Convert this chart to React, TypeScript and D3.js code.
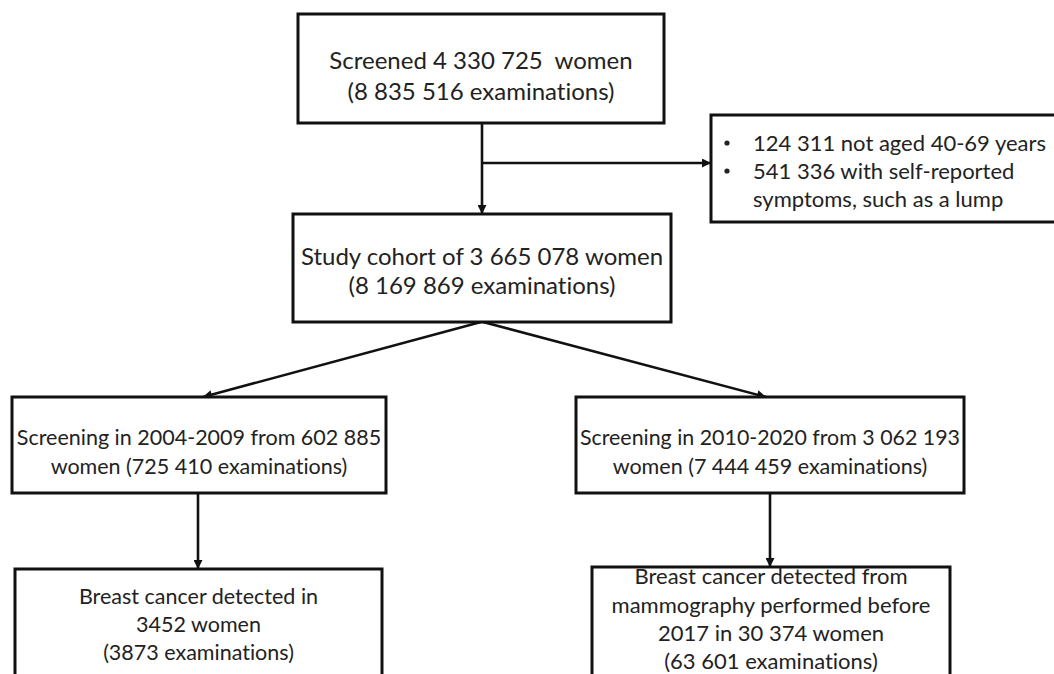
import { useEffect, useRef } from 'react'
import * as d3 from 'd3'

// box texts
const screenedLines = ['Screened 4 330 725  women', '(8 835 516 examinations)']
const excludedItems = [
  ['124 311 not aged 40-69 years'],
  ['541 336 with self-reported', 'symptoms, such as a lump'],
]
const cohortLines = ['Study cohort of 3 665 078 women', '(8 169 869 examinations)']
const earlyLines = ['Screening in 2004-2009 from 602 885', 'women (725 410 examinations)']
const lateLines = ['Screening in 2010-2020 from 3 062 193', 'women (7 444 459 examinations)']
const earlyCancerLines = ['Breast cancer detected in', '3452 women', '(3873 examinations)']
const lateCancerLines = [
  'Breast cancer detected from',
  'mammography performed before',
  '2017 in 30 374 women',
  '(63 601 examinations)',
]

const W = 1054
const H = 674
const font = 'Lato, "Open Sans", sans-serif'

// layout of the boxes (px)
const layout = [
  { id: 'screened', lines: screenedLines, x: 298, y: 14, w: 366, h: 109, cy: 76, lh: 31, fs: 24 },
  { id: 'cohort', lines: cohortLines, x: 293, y: 214, w: 378, h: 108, cy: 271, lh: 29, fs: 24 },
  { id: 'early', lines: earlyLines, x: 12, y: 397, w: 374, h: 96, cy: 452, lh: 29, fs: 21.5 },
  { id: 'late', lines: lateLines, x: 576, y: 397, w: 388, h: 96, cy: 452, lh: 29, fs: 21.5 },
  { id: 'earlyCancer', lines: earlyCancerLines, x: 15, y: 569, w: 367, h: 130, cy: 624, lh: 28, fs: 21.5 },
  { id: 'lateCancer', lines: lateCancerLines, x: 592, y: 567, w: 358, h: 130, cy: 619, lh: 28.3, fs: 22 },
]
const excluded = { x: 711, y: 115, w: 360, h: 107, top: 143, lh: 28, bulletX: 727, textX: 753, fs: 22 }

const arrows: [number, number, number, number][] = [
  [482, 123, 482, 214],
  [482, 163, 711, 163],
  [481, 322, 203, 397],
  [483, 322, 766, 397],
  [198, 493, 198, 569],
  [770, 493, 770, 567],
]

const styleText = (sel: d3.Selection<SVGTextElement, unknown, null, undefined>, fs: number) =>
  sel
    .attr('font-family', font)
    .attr('font-size', fs)
    .attr('fill', '#222')
    .style('font-variant-ligatures', 'none')
    .style('white-space', 'pre')

const App = () => {
  const svgRef = useRef<SVGSVGElement | null>(null)

  useEffect(() => {
    if (!svgRef.current) return
    const svg = d3.select(svgRef.current)
    svg.selectAll('*').remove()

    svg.append('defs')
      .append('marker')
      .attr('id', 'head')
      .attr('viewBox', '0 0 10 10')
      .attr('refX', 10)
      .attr('refY', 5)
      .attr('markerUnits', 'userSpaceOnUse')
      .attr('markerWidth', 10)
      .attr('markerHeight', 9)
      .attr('orient', 'auto')
      .append('path')
      .attr('d', 'M0,0 L10,5 L0,10 z')
      .attr('fill', '#111')

    const line = d3.line<[number, number]>()

    // arrows
    svg.append('g')
      .selectAll('path')
      .data(arrows)
      .enter()
      .append('path')
      .attr('d', d => line([[d[0], d[1]], [d[2], d[3]]]))
      .attr('stroke', '#111')
      .attr('stroke-width', 2.6)
      .attr('fill', 'none')
      .attr('marker-end', 'url(#head)')

    // boxes
    const boxes = svg.append('g')
      .selectAll('g')
      .data(layout)
      .enter()
      .append('g')

    boxes.append('rect')
      .attr('x', d => d.x)
      .attr('y', d => d.y)
      .attr('width', d => d.w)
      .attr('height', d => d.h)
      .attr('fill', '#fff')
      .attr('stroke', '#111')
      .attr('stroke-width', 3)

    boxes.each(function (d) {
      const g = d3.select(this)
      const n = d.lines.length
      d.lines.forEach((t, i) => {
        const txt = g.append('text')
          .attr('x', d.x + d.w / 2)
          .attr('y', d.cy + (i - (n - 1) / 2) * d.lh)
          .attr('dy', '0.35em')
          .attr('text-anchor', 'middle')
          .text(t)
        styleText(txt, d.fs)
        // keep long lines inside the box
        const node = txt.node()
        if (node && node.getComputedTextLength() > d.w - 8) {
          txt.attr('textLength', d.w - 8).attr('lengthAdjust', 'spacingAndGlyphs')
        }
      })
    })

    // exclusion box
    const ex = svg.append('g')
    ex.append('rect')
      .attr('x', excluded.x)
      .attr('y', excluded.y)
      .attr('width', excluded.w)
      .attr('height', excluded.h)
      .attr('fill', '#fff')
      .attr('stroke', '#111')
      .attr('stroke-width', 3)

    let row = 0
    excludedItems.forEach(item => {
      item.forEach((t, j) => {
        const y = excluded.top + row * excluded.lh
        if (j === 0) {
          ex.append('circle')
            .attr('cx', excluded.bulletX)
            .attr('cy', y)
            .attr('r', 2.6)
            .attr('fill', '#222')
        }
        const txt = ex.append('text')
          .attr('x', excluded.textX)
          .attr('y', y)
          .attr('dy', '0.35em')
          .text(t)
        styleText(txt, excluded.fs)
        row++
      })
    })
  }, [])

  return (
    <svg
      ref={svgRef}
      width={W}
      height={H}
      style={{ position: 'absolute', left: 0, top: 0, background: '#fff' }}
    />
  )
}

export default App
